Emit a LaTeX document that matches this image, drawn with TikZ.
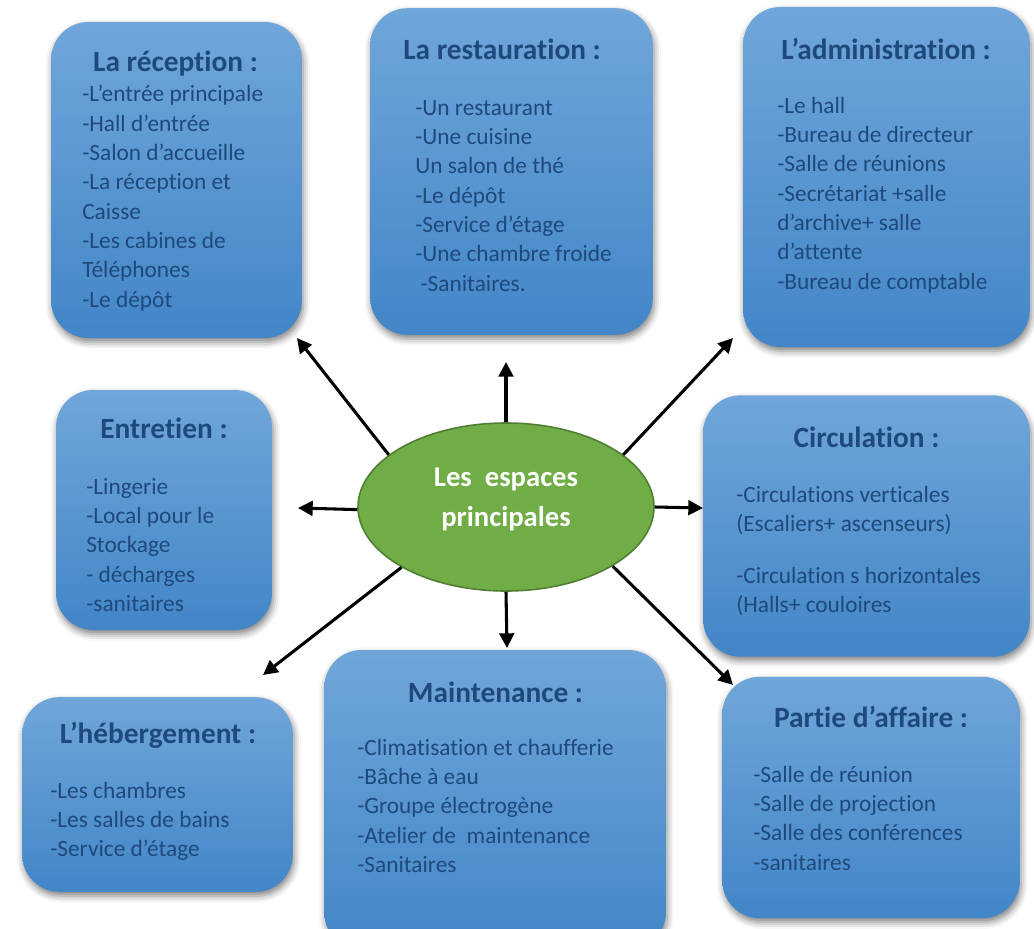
\documentclass[tikz,border=0pt]{standalone}
\usepackage{fontspec}
\setmainfont{Carlito}[Ligatures=NoCommon]
\usetikzlibrary{arrows.meta, shapes.geometric, shadows.blur}
\definecolor{bleuhaut}{RGB}{112,166,218}
\definecolor{bleubas}{RGB}{66,134,200}
\definecolor{bleutexte}{RGB}{31,73,125}
\definecolor{vert}{RGB}{112,173,71}
\definecolor{vertfonce}{RGB}{80,126,50}
\newcommand{\liste}[1]{\begin{tabular}[t]{@{}l@{}}#1\end{tabular}}
\tikzset{
	espace/.style={rectangle, rounded corners=28pt, top color=bleuhaut, bottom color=bleubas, draw=none,
		blur shadow={shadow xshift=1pt, shadow yshift=-3pt, shadow blur radius=5pt, shadow opacity=50}}, % les boîtes bleues
	titre/.style={anchor=base, inner sep=0pt, text=bleutexte, font=\fontsize{22}{26}\selectfont\bfseries},
	liste/.style={anchor=base west, inner sep=0pt, text=bleutexte, font=\fontsize{17.5}{22}\selectfont},
	fleche/.style={-{Triangle[length=11pt, width=11pt]}, line width=2.3pt, black},
}

\begin{document}
\begin{tikzpicture}[x=0.75pt, y=-0.75pt]
	\useasboundingbox (0,0) rectangle (1034,928);
	% les boîtes
	\node[espace, minimum width=188pt, minimum height=237pt] (rec) at (176.5,180) {};
	\node[espace, minimum width=212pt, minimum height=245pt] (rest) at (511.5,171.5) {};
	\node[espace, minimum width=215pt, minimum height=255pt] (adm) at (886.5,177) {};
	\node[espace, minimum width=162pt, minimum height=180pt] (ent) at (164,510) {};
	\node[espace, minimum width=245pt, minimum height=196pt] (circ) at (866.5,526) {};
	\node[espace, minimum width=203pt, minimum height=146pt] (heb) at (157.5,794.5) {};
	\node[espace, minimum width=256pt, minimum height=225pt] (main) at (495,800) {};
	\node[espace, minimum width=223pt, minimum height=181pt] (part) at (871,797.5) {};
	% titres
	\node[titre] (recT) at (175.5,71.7) {La réception :};
	\node[titre] (restT) at (502,59.3) {La restauration :};
	\node[titre] (admT) at (886,59.3) {L’administration :};
	\node[titre] (entT) at (164,438) {Entretien :};
	\node[titre] (circT) at (866.5,447) {Circulation :};
	\node[titre] (hebT) at (158,743) {L’hébergement :};
	\node[titre] (mainT) at (495.5,702) {Maintenance :};
	\node[titre] (partT) at (871,727) {Partie d’affaire :};
	% contenu
	\node[liste] (recL) at (82,101.7) {\liste{-L’entrée principale\\-Hall d’entrée\\-Salon d’accueille\\-La réception et\\Caisse\\-Les cabines de\\Téléphones\\-Le dépôt}};
	\node[liste] (restL) at (415,115) {\liste{-Un restaurant\\-Une cuisine\\Un salon de thé\\-Le dépôt\\-Service d’étage\\-Une chambre froide\\\hspace{4pt}-Sanitaires.}};
	\node[liste] (admL) at (777,113.3) {\liste{-Le hall\\-Bureau de directeur\\-Salle de réunions\\-Secrétariat +salle\\d’archive+ salle\\d’attente\\-Bureau de comptable}};
	\node[liste] (entL) at (86,494) {\liste{-Lingerie\\-Local pour le\\Stockage\\- décharges\\-sanitaires}};
	\node[liste] (circL) at (736,502) {\liste{-Circulations verticales\\(Escaliers+ ascenseurs)\\[17pt]-Circulation s horizontales\\(Halls+ couloires}};
	\node[liste] (hebL) at (50,798) {\liste{-Les chambres\\-Les salles de bains\\-Service d’étage}};
	\node[liste] (mainL) at (357,755) {\liste{-Climatisation et chaufferie\\-Bâche à eau\\-Groupe électrogène\\-Atelier de~ maintenance\\-Sanitaires}};
	\node[liste] (partL) at (753,782) {\liste{-Salle de réunion\\-Salle de projection\\-Salle des conférences\\-sanitaires}};
	% centre
	\node[ellipse, draw=vertfonce, line width=1.2pt, fill=vert, minimum width=222pt, minimum height=126pt, inner sep=0pt] (ctr) at (506,507) {};
	\node[text=white, font=\fontsize{21.5}{30}\selectfont\bfseries, align=center] (ctrT) at (506,499) {Les\ \ espaces\\principales};
	% pointes des flèches
	\coordinate (pRec) at (297,338);
	\coordinate (pRest) at (506,362);
	\coordinate (pAdm) at (733,338);
	\coordinate (pEnt) at (298,508);
	\coordinate (pCirc) at (703,508);
	\coordinate (pHeb) at (263,675);
	\coordinate (pMain) at (507,648);
	\coordinate (pPart) at (733,685);
	\draw[fleche] (ctr.156) -- (pRec);
	\draw[fleche] (ctr.north) -- (pRest);
	\draw[fleche] (ctr.24) -- (pAdm);
	\draw[fleche] (ctr.181) -- (pEnt);
	\draw[fleche] (ctr.east) -- (pCirc);
	\draw[fleche] (ctr.210) -- (pHeb);
	\draw[fleche] (ctr.south) -- (pMain);
	\draw[fleche] (ctr.331) -- (pPart);
\end{tikzpicture}
\end{document}
